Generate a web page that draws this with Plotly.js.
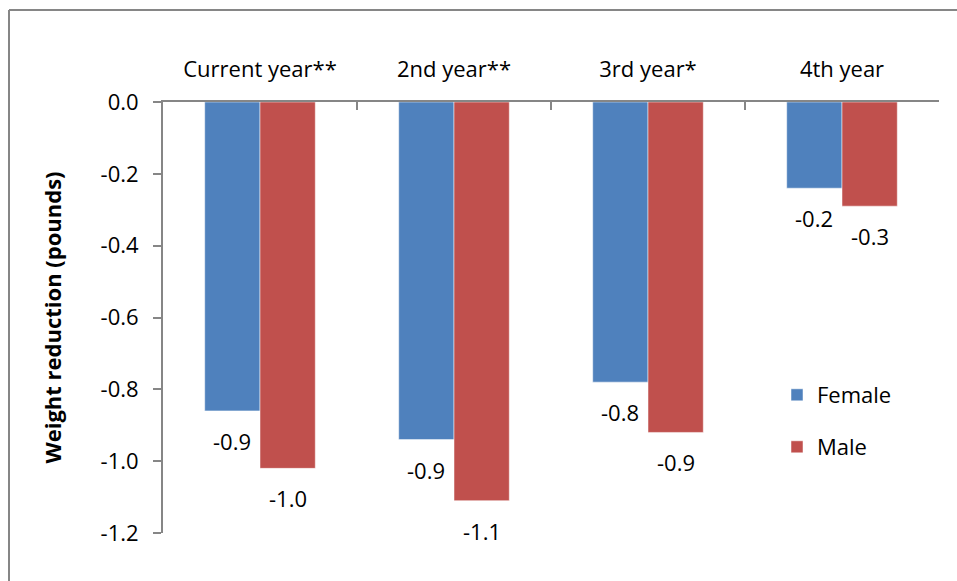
<!DOCTYPE html>
<html>
<head>
<meta charset="utf-8">
<script src="https://cdn.plot.ly/plotly-3.0.1.min.js"></script>
<style>html,body{margin:0;padding:0;background:#fff;}#chart{width:957px;height:581px;}</style>
</head>
<body>
<div id="chart"></div>
<script>
const categories = ["Current year**", "2nd year**", "3rd year*", "4th year"];
const femaleValues = [-0.86, -0.94, -0.78, -0.24];
const maleValues = [-1.02, -1.11, -0.92, -0.29];
const yTickVals = [0, -0.2, -0.4, -0.6, -0.8, -1.0, -1.2];
const yTickText = ["0.0", "-0.2", "-0.4", "-0.6", "-0.8", "-1.0", "-1.2"];

const FONT = "'Open Sans', sans-serif";
const FS = 22;
const W = 957, H = 581;
const M = {l: 163, r: 18, t: 102, b: 48};
const plotW = W - M.l - M.r, plotH = H - M.t - M.b;
const bargap = 0.43;
const barPx = plotW / categories.length * (1 - bargap) / 2;

const traces = [
  {type: 'bar', name: 'Female', x: categories, y: femaleValues,
   marker: {color: '#4F81BD', line: {color: '#ffffff', width: 0.5}}, legend: 'legend', hoverinfo: 'none'},
  {type: 'bar', name: 'Male', x: categories, y: maleValues,
   marker: {color: '#C0504D', line: {color: '#ffffff', width: 0.5}}, legend: 'legend2', hoverinfo: 'none'}
];

const annotations = [];
[[femaleValues, -1], [maleValues, 1]].forEach(([vals, side]) => {
  vals.forEach((v, i) => {
    annotations.push({x: categories[i], y: v, xref: 'x', yref: 'y',
      text: v.toFixed(1), showarrow: false, xshift: side * barPx / 2, yshift: -30,
      yanchor: 'middle', font: {family: FONT, size: FS, color: '#000'}});
  });
});

const px2x = p => (p - M.l) / plotW;
const py2y = p => (H - M.b - p) / plotH;

const layout = {
  width: W, height: H,
  margin: M,
  paper_bgcolor: '#fff', plot_bgcolor: '#fff',
  font: {family: FONT, size: FS, color: '#000'},
  barmode: 'group', bargap: bargap, bargroupgap: 0,
  showlegend: true,
  xaxis: {type: 'category', side: 'top', showline: true, linecolor: '#868686', linewidth: 2,
    ticks: 'inside', tickson: 'boundaries', ticklen: 8, tickcolor: '#868686', tickwidth: 2,
    ticklabelstandoff: 14, showgrid: false, zeroline: false, fixedrange: true,
    tickfont: {family: FONT, size: FS, color: '#000'}},
  yaxis: {range: [-1.2, 0], tickvals: yTickVals, ticktext: yTickText,
    showline: true, linecolor: '#868686', linewidth: 2, ticks: 'outside', ticklen: 8,
    tickcolor: '#868686', tickwidth: 2, showgrid: false, zeroline: false, ticklabelstandoff: 10,
    tickfont: {family: FONT, size: FS, color: '#000'},
    title: {text: '<b>Weight reduction (pounds)</b>', font: {family: FONT, size: FS, color: '#000'}, standoff: 33}},
  legend: {x: px2x(777), y: py2y(395), xanchor: 'left', yanchor: 'middle', bgcolor: 'rgba(0,0,0,0)',
    font: {family: FONT, size: FS, color: '#000'}},
  legend2: {x: px2x(777), y: py2y(447), xanchor: 'left', yanchor: 'middle', bgcolor: 'rgba(0,0,0,0)',
    font: {family: FONT, size: FS, color: '#000'}},
  annotations: annotations,
  shapes: [
    {type: 'line', xref: 'paper', yref: 'paper', x0: px2x(9), x1: px2x(957), y0: py2y(10), y1: py2y(10), line: {color: '#868686', width: 2}},
    {type: 'line', xref: 'paper', yref: 'paper', x0: px2x(9), x1: px2x(9), y0: py2y(10), y1: py2y(581), line: {color: '#868686', width: 2}}
  ]
};

Plotly.newPlot('chart', traces, layout, {displayModeBar: false, staticPlot: true});
</script>
</body>
</html>
